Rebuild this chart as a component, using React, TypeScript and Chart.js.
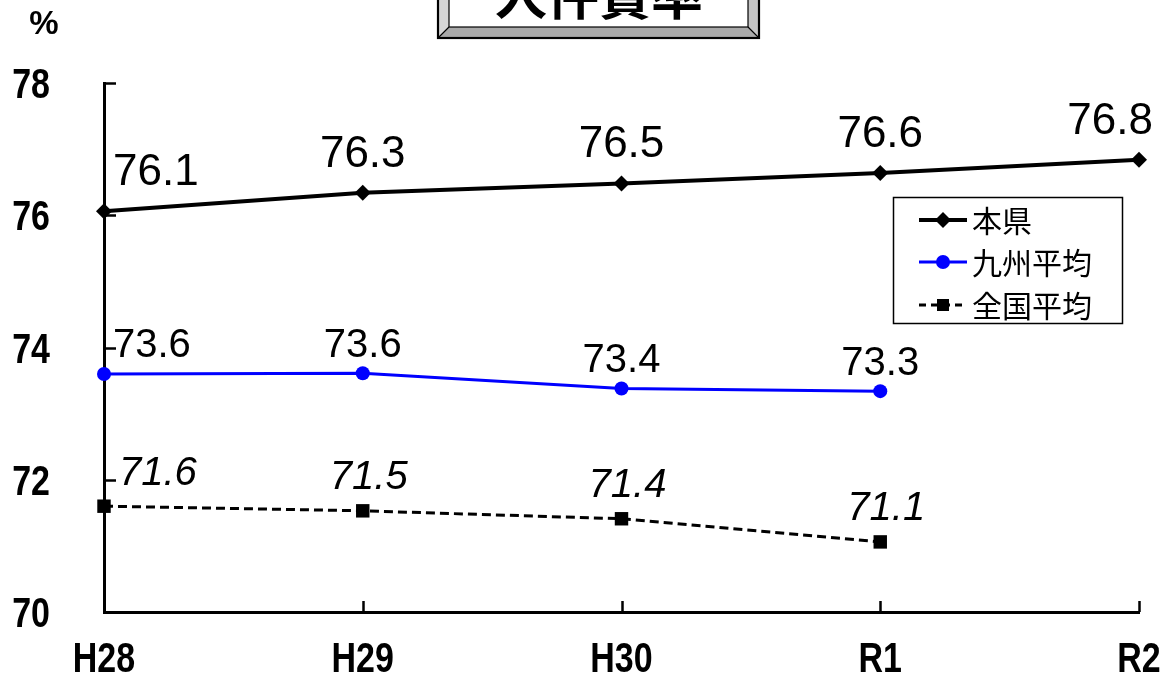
import React, { useEffect, useRef } from "react";
import { Chart, registerables } from "chart.js";

Chart.register(...registerables);

const categories = ["H28", "H29", "H30", "R1", "R2"];
const honkenValues = [76.06, 76.34, 76.48, 76.64, 76.84];
const kyushuValues = [73.6, 73.61, 73.38, 73.34, null];
const zenkokuValues = [71.6, 71.53, 71.41, 71.06, null];
const seriesNames = ["本県", "九州平均", "全国平均"];
const yMin = 70;
const yMax = 78;
const yStep = 2;
const titleText = "人件費率";
const unitText = "%";

const SANS = "'Liberation Sans', Arial, sans-serif";
const CJK = "'Noto Sans CJK JP', 'Noto Sans', sans-serif";
const TICK_FONT = `bold 43px ${SANS}`;
const TICK_SQUEEZE = 0.79;

// label style per dataset: font, vertical offset of text centre from point, x nudge
const labelStyles = [
  { font: `44px ${SANS}`, size: 44, dy: -42, dx: 0 },
  { font: `40px ${SANS}`, size: 40, dy: -31, dx: 0 },
  { font: `italic 40px ${SANS}`, size: 40, dy: -36, dx: 6 },
];

const squeezedText = (ctx: any, txt: string, x: number, y: number, align: string) => {
  ctx.save();
  ctx.translate(x, y);
  ctx.scale(TICK_SQUEEZE, 1);
  ctx.textAlign = align;
  ctx.textBaseline = "alphabetic";
  ctx.fillText(txt, 0, 0);
  ctx.restore();
};

const decorPlugin = {
  id: "decor",
  beforeDatasetsDraw(chart: any) {
    const ctx = chart.ctx;
    const { left, bottom } = chart.chartArea;
    const xs = chart.scales.x;
    const ys = chart.scales.y;
    ctx.save();
    ctx.strokeStyle = "#000";
    ctx.lineWidth = 2.5;
    ctx.fillStyle = "#000";
    ctx.font = TICK_FONT;
    ys.ticks.forEach((t: any) => {
      const yy = ys.getPixelForValue(t.value);
      const y = Math.round(yy) + 0.5;
      ctx.beginPath();
      ctx.moveTo(left, y);
      ctx.lineTo(left + 12, y);
      ctx.stroke();
      squeezedText(ctx, String(t.value), 50, yy + 15, "right");
    });
    xs.ticks.forEach((_t: any, i: number) => {
      const xx = xs.getPixelForTick(i);
      const x = Math.round(xx) + 0.5;
      ctx.beginPath();
      ctx.moveTo(x, bottom);
      ctx.lineTo(x, bottom - 11);
      ctx.stroke();
      squeezedText(ctx, String(chart.data.labels[i]), xx, 672, "center");
    });
    ctx.restore();
  },
  afterDatasetsDraw(chart: any) {
    const ctx = chart.ctx;
    const W = chart.width;
    const { left } = chart.chartArea;
    ctx.save();
    // data labels
    chart.data.datasets.forEach((ds: any, di: number) => {
      const meta = chart.getDatasetMeta(di);
      const st = labelStyles[di];
      ctx.font = st.font;
      ctx.fillStyle = "#000";
      ctx.textAlign = "center";
      ctx.textBaseline = "alphabetic";
      meta.data.forEach((pt: any, i: number) => {
        const v = ds.data[i];
        if (v === null || v === undefined) return;
        const txt = v.toFixed(1);
        const w = ctx.measureText(txt).width;
        let cx = pt.x;
        cx = Math.max(cx, left + 9 + w / 2);
        cx = Math.min(cx, W - 14 - w / 2);
        cx += st.dx;
        const cy = pt.y + st.dy;
        ctx.fillText(txt, cx, cy + 0.36 * st.size);
      });
    });

    // legend
    const bx = 893.5, by = 197.5, bw = 229, bh = 126;
    ctx.fillStyle = "#fff";
    ctx.fillRect(bx, by, bw, bh);
    ctx.strokeStyle = "#000";
    ctx.lineWidth = 1.5;
    ctx.strokeRect(bx, by, bw, bh);
    const rows = [220, 262, 305];
    chart.data.datasets.forEach((ds: any, di: number) => {
      const y = rows[di];
      ctx.save();
      ctx.strokeStyle = ds.borderColor;
      ctx.lineWidth = ds.borderWidth;
      ctx.setLineDash(ds.borderDash ? [7, 5] : []);
      ctx.beginPath();
      ctx.moveTo(919, y);
      ctx.lineTo(967, y);
      ctx.stroke();
      ctx.restore();
      ctx.fillStyle = ds.pointBackgroundColor;
      ctx.beginPath();
      const cx = 943;
      if (ds.pointStyle === "rectRot") {
        const r = 8;
        ctx.moveTo(cx - r, y);
        ctx.lineTo(cx, y - r);
        ctx.lineTo(cx + r, y);
        ctx.lineTo(cx, y + r);
        ctx.closePath();
      } else if (ds.pointStyle === "circle") {
        ctx.arc(cx, y, 7, 0, Math.PI * 2);
      } else {
        ctx.rect(cx - 6, y - 6, 12, 12);
      }
      ctx.fill();
      ctx.fillStyle = "#000";
      ctx.font = `30px ${CJK}`;
      ctx.textAlign = "left";
      ctx.textBaseline = "middle";
      ctx.fillText(ds.label, 972, y + 1);
    });

    // title box
    const x0 = 438, x1 = 759, yb = 38, xi0 = 449, xi1 = 748, yib = 27, yt = -20;
    const poly = (pts: number[][], fill: string) => {
      ctx.beginPath();
      ctx.moveTo(pts[0][0], pts[0][1]);
      for (let k = 1; k < pts.length; k++) ctx.lineTo(pts[k][0], pts[k][1]);
      ctx.closePath();
      ctx.fillStyle = fill;
      ctx.fill();
    };
    poly([[x0, yt], [xi0, yt], [xi0, yib], [x0, yb]], "#d6d6d6");
    poly([[x0, yb], [xi0, yib], [xi1, yib], [x1, yb]], "#a9a9a9");
    poly([[xi1, yt], [x1, yt], [x1, yb], [xi1, yib]], "#c4c4c4");
    ctx.fillStyle = "#fff";
    ctx.fillRect(xi0, yt, xi1 - xi0, yib - yt);
    ctx.strokeStyle = "#000";
    ctx.lineWidth = 1.2;
    ctx.strokeRect(xi0, yt, xi1 - xi0, yib - yt);
    ctx.beginPath();
    ctx.moveTo(x0, yb); ctx.lineTo(xi0, yib);
    ctx.moveTo(x1, yb); ctx.lineTo(xi1, yib);
    ctx.stroke();
    ctx.lineWidth = 2.2;
    ctx.strokeRect(x0, yt, x1 - x0, yb - yt);
    ctx.fillStyle = "#000";
    ctx.font = `bold 52px ${CJK}`;
    ctx.textAlign = "center";
    ctx.textBaseline = "alphabetic";
    ctx.fillText(titleText, 599, 15);

    // unit
    ctx.font = `bold 33px ${SANS}`;
    ctx.textAlign = "center";
    ctx.textBaseline = "alphabetic";
    ctx.fillText(unitText, 44, 34);
    ctx.restore();
  },
};

export default function App() {
  const ref = useRef<HTMLCanvasElement | null>(null);
  useEffect(() => {
    if (!ref.current) return;
    const chart = new Chart(ref.current, {
      type: "line",
      data: {
        labels: categories,
        datasets: [
          {
            label: seriesNames[0],
            data: honkenValues,
            borderColor: "#000",
            backgroundColor: "#000",
            pointBackgroundColor: "#000",
            pointBorderColor: "#000",
            borderWidth: 4,
            pointStyle: "rectRot",
            pointRadius: 8,
            pointBorderWidth: 0,
            tension: 0,
            clip: false,
          },
          {
            label: seriesNames[1],
            data: kyushuValues,
            borderColor: "#0000ff",
            backgroundColor: "#0000ff",
            pointBackgroundColor: "#0000ff",
            pointBorderColor: "#0000ff",
            borderWidth: 3,
            pointStyle: "circle",
            pointRadius: 7,
            pointBorderWidth: 0,
            tension: 0,
            clip: false,
          },
          {
            label: seriesNames[2],
            data: zenkokuValues,
            borderColor: "#000",
            backgroundColor: "#000",
            pointBackgroundColor: "#000",
            pointBorderColor: "#000",
            borderWidth: 3,
            borderDash: [9, 5],
            pointStyle: "rect",
            pointRadius: 9.5,
            pointBorderWidth: 0,
            tension: 0,
            clip: false,
          },
        ] as any,
      },
      options: {
        responsive: false,
        animation: false,
        layout: { padding: { left: 0, right: 28, top: 83, bottom: 0 } },
        plugins: {
          legend: { display: false },
          title: { display: false },
          tooltip: { enabled: false },
        },
        scales: {
          x: {
            offset: false,
            grid: { drawOnChartArea: false, drawTicks: false },
            border: { display: true, color: "#000", width: 3 },
            ticks: { display: false, autoSkip: false },
            afterFit: (s: any) => {
              s.height = 681 - 612;
            },
          },
          y: {
            min: yMin,
            max: yMax,
            grid: { drawOnChartArea: false, drawTicks: false },
            border: { display: true, color: "#000", width: 3 },
            ticks: { display: false, stepSize: yStep },
            afterFit: (s: any) => {
              s.width = 104;
            },
          },
        },
      },
      plugins: [decorPlugin],
    });
    return () => chart.destroy();
  }, []);
  return (
    <div style={{ position: "fixed", left: 0, top: 0, width: 1167, height: 681, background: "#fff" }}>
      <canvas ref={ref} width={1167} height={681} style={{ width: 1167, height: 681 }} />
    </div>
  );
}
